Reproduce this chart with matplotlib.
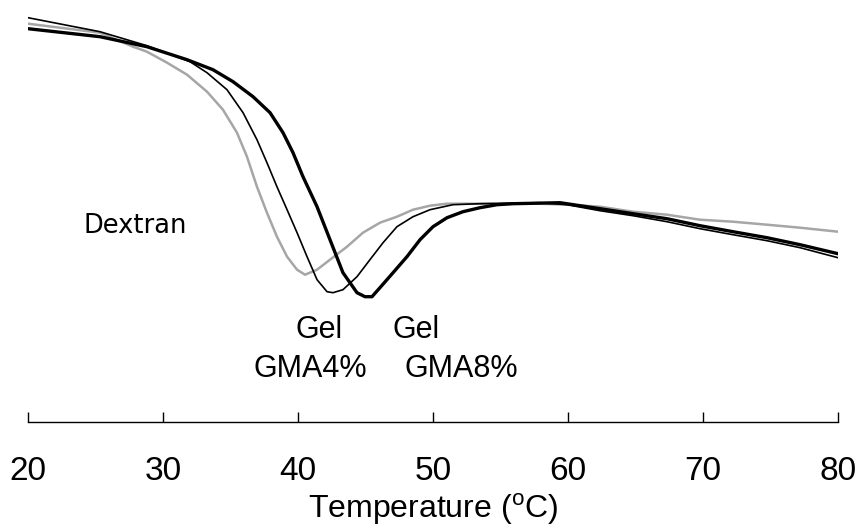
import matplotlib
matplotlib.use("Agg")
import matplotlib.pyplot as plt

# DSC-like traces (heat flow in arbitrary units)
temp_dextran = [20.0, 25.33, 27.78, 28.81, 30.30, 31.78, 33.26, 34.44, 35.48, 36.22,
                36.96, 37.70, 38.44, 39.19, 39.93, 40.52, 41.41, 42.37, 43.63, 44.81,
                46.07, 47.33, 48.52, 49.78, 51.04, 53.48, 57.93, 59.93, 62.37, 64.81,
                67.33, 69.78, 72.22, 74.74, 77.19, 80.0]
flow_dextran = [3.98, 3.89, 3.75, 3.70, 3.59, 3.47, 3.30, 3.12, 2.89, 2.65,
                2.35, 2.09, 1.85, 1.65, 1.52, 1.47, 1.52, 1.62, 1.75, 1.89,
                1.99, 2.05, 2.12, 2.16, 2.18, 2.18, 2.18, 2.17, 2.15, 2.10,
                2.07, 2.02, 2.00, 1.97, 1.94, 1.90]

temp_gma4 = [20.0, 25.33, 28.81, 32.0, 33.26, 34.74, 35.93, 36.96, 37.70, 38.44,
             39.19, 39.93, 40.67, 41.41, 42.15, 42.59, 43.33, 44.37, 45.33, 46.30,
             47.33, 48.52, 49.78, 51.48, 53.48, 57.93, 59.93, 62.37, 64.81, 67.33,
             69.78, 72.22, 74.74, 77.19, 80.0]
flow_gma4 = [4.04, 3.90, 3.76, 3.60, 3.49, 3.32, 3.09, 2.82, 2.59, 2.35,
             2.12, 1.89, 1.65, 1.42, 1.30, 1.29, 1.32, 1.45, 1.62, 1.79,
             1.95, 2.05, 2.12, 2.17, 2.18, 2.19, 2.17, 2.11, 2.06, 2.00,
             1.93, 1.87, 1.81, 1.74, 1.64]

temp_gma8 = [20.0, 25.33, 28.81, 31.78, 33.70, 35.19, 36.67, 37.93, 38.89, 39.63,
             40.37, 41.41, 42.37, 43.33, 44.37, 44.96, 45.48, 46.07, 47.04, 48.07,
             49.04, 50.0, 51.04, 52.22, 53.48, 54.74, 55.93, 59.41, 62.37, 64.81,
             67.33, 69.78, 72.22, 74.74, 77.19, 80.0]
flow_gma8 = [3.93, 3.85, 3.75, 3.62, 3.52, 3.40, 3.25, 3.09, 2.89, 2.69,
             2.45, 2.15, 1.82, 1.49, 1.29, 1.25, 1.25, 1.34, 1.49, 1.65,
             1.82, 1.95, 2.04, 2.10, 2.14, 2.17, 2.18, 2.19, 2.13, 2.08,
             2.03, 1.96, 1.90, 1.84, 1.77, 1.68]

x_ticks = [20, 30, 40, 50, 60, 70, 80]

plt.rcParams["font.family"] = ["Liberation Sans", "DejaVu Sans"]
plt.rcParams["mathtext.fontset"] = "custom"
plt.rcParams["mathtext.rm"] = "Liberation Sans"

fig = plt.figure(figsize=(8.6, 5.26), dpi=100)
ax = fig.add_axes([28 / 860, 104.3 / 526, 810 / 860, 421.7 / 526])

ax.plot(temp_dextran, flow_dextran, color="#a6a6a6", linewidth=1.8)
ax.plot(temp_gma4, flow_gma4, color="black", linewidth=1.2)
ax.plot(temp_gma8, flow_gma8, color="black", linewidth=2.4)

ax.text(27.93, 1.884, "Dextran", family="DejaVu Sans", fontsize=18.5, ha="center", va="baseline")
ax.text(41.56, 0.834, "Gel", fontsize=22, ha="center", va="baseline")
ax.text(40.89, 0.45, "GMA4%", fontsize=22, ha="center", va="baseline")
ax.text(48.78, 0.834, "Gel", fontsize=22, ha="center", va="baseline")
ax.text(52.07, 0.45, "GMA8%", fontsize=22, ha="center", va="baseline")

ax.set_xlim(20, 80)
ax.set_ylim(0, 4.217)
ax.set_xticks(x_ticks)
ax.set_yticks([])
for side in ("left", "right", "top"):
    ax.spines[side].set_visible(False)
ax.spines["bottom"].set_linewidth(1.0)
ax.tick_params(axis="x", direction="in", length=7.5, width=1.0, pad=25, labelsize=24)
ax.set_xlabel("Temperature ($^{\\mathrm{o}}$C)", fontsize=23, labelpad=3)

fig.savefig("out.png", dpi=100)
